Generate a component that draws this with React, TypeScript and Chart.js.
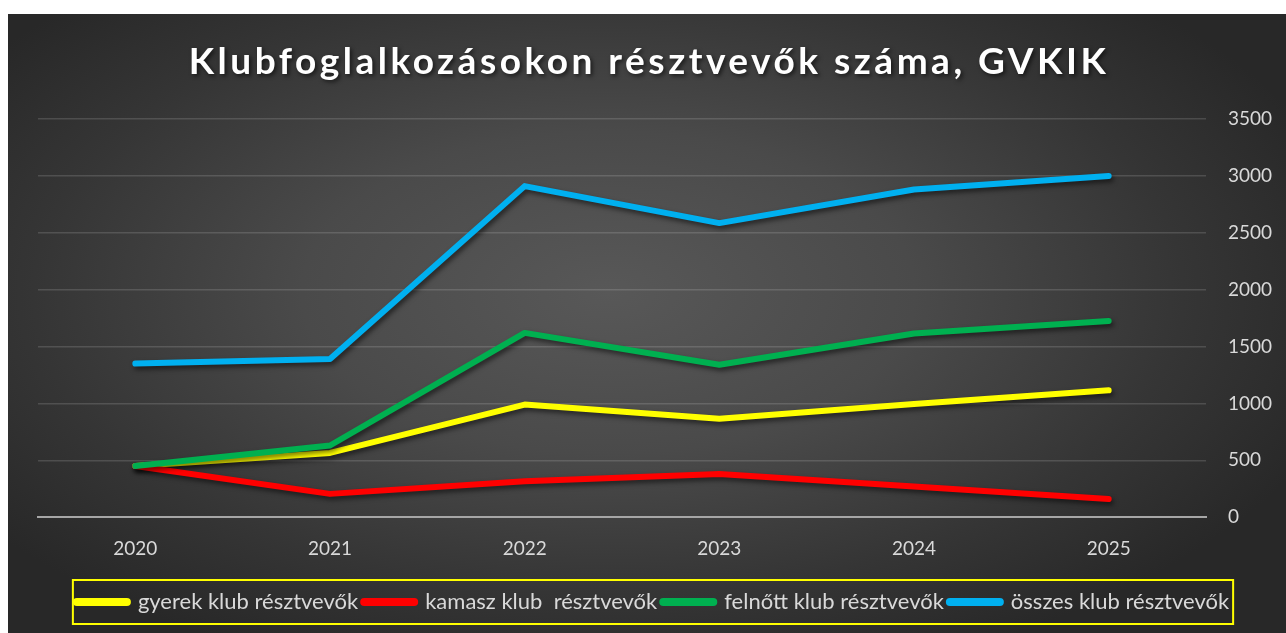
import React, { useEffect, useRef } from "react";
import { Chart, registerables } from "chart.js";

Chart.register(...registerables);

const TITLE = "Klubfoglalkozásokon résztvevők száma, GVKIK";
const YEARS = ["2020", "2021", "2022", "2023", "2024", "2025"];
const SERIES_NAMES = [
  "gyerek klub résztvevők",
  "kamasz klub  résztvevők",
  "felnőtt klub résztvevők",
  "összes klub résztvevők",
];
const GYEREK = [450, 565, 990, 865, 995, 1115];
const KAMASZ = [450, 205, 315, 380, 270, 160];
const FELNOTT = [450, 630, 1620, 1340, 1615, 1725];
const OSSZES = [1350, 1390, 2910, 2585, 2880, 3000];
const COLORS = ["#ffff00", "#ff0000", "#00b050", "#00b0f0"];
const Y_MIN = 0;
const Y_MAX = 3500;
const Y_STEP = 500;

const FONT = "Lato, 'Open Sans', sans-serif";

const titlePlugin = {
  id: "customTitle",
  afterDraw(chart: any) {
    const ctx = chart.ctx;
    ctx.save();
    ctx.font = `bold 37px ${FONT}`;
    (ctx as any).letterSpacing = "3.5px";
    ctx.fillStyle = "#ffffff";
    ctx.textAlign = "center";
    ctx.textBaseline = "middle";
    ctx.shadowColor = "rgba(0,0,0,0.6)";
    ctx.shadowBlur = 4;
    ctx.shadowOffsetX = 2;
    ctx.shadowOffsetY = 2;
    ctx.fillText(TITLE, chart.width / 2 + 2, 48);
    ctx.restore();
  },
};

const shadowPlugin = {
  id: "lineShadow",
  beforeDatasetDraw(chart: any) {
    const ctx = chart.ctx;
    ctx.save();
    ctx.shadowColor = "rgba(0,0,0,0.55)";
    ctx.shadowBlur = 5;
    ctx.shadowOffsetX = 2;
    ctx.shadowOffsetY = 3;
  },
  afterDatasetDraw(chart: any) {
    chart.ctx.restore();
  },
};

const LEGEND_SHIFT = -9;

const legendShiftPlugin = {
  id: "legendShift",
  afterLayout(chart: any) {
    const lg = chart.legend;
    if (!lg) return;
    lg.left += LEGEND_SHIFT;
    lg.right += LEGEND_SHIFT;
    if (lg.legendHitBoxes) {
      for (const h of lg.legendHitBoxes) h.left += LEGEND_SHIFT;
    }
  },
};

const legendBoxPlugin = {
  id: "legendBox",
  afterDraw(chart: any) {
    const lg = chart.legend;
    if (!lg || !lg.legendHitBoxes || !lg.legendHitBoxes.length) return;
    const boxes = lg.legendHitBoxes;
    let l = Infinity, r = -Infinity, t = Infinity, b = -Infinity;
    for (const h of boxes) {
      l = Math.min(l, h.left);
      r = Math.max(r, h.left + h.width);
      t = Math.min(t, h.top);
      b = Math.max(b, h.top + h.height);
    }
    const cy = (t + b) / 2;
    const ctx = chart.ctx;
    ctx.save();
    ctx.strokeStyle = "#ffff00";
    ctx.lineWidth = 2;
    ctx.strokeRect(l - 4, cy - 22, r - l + 8, 44);
    ctx.restore();
  },
};

export default function App() {
  const ref = useRef<HTMLCanvasElement | null>(null);
  useEffect(() => {
    if (!ref.current) return;
    const data = [GYEREK, KAMASZ, FELNOTT, OSSZES];
    const chart = new Chart(ref.current, {
      type: "line",
      data: {
        labels: YEARS,
        datasets: data.map((d, i) => ({
          label: SERIES_NAMES[i],
          data: d,
          borderColor: COLORS[i],
          backgroundColor: COLORS[i],
          borderWidth: 6,
          borderCapStyle: "round",
          borderJoinStyle: "round",
          pointRadius: 0,
          pointHoverRadius: 0,
          tension: 0,
          order: 4 - i,
        })),
      },
      options: {
        animation: false,
        responsive: false,
        maintainAspectRatio: false,
        layout: { padding: { left: 30, right: 0, top: 105, bottom: 10 } },
        plugins: {
          title: { display: false },
          tooltip: { enabled: false },
          legend: {
            position: "bottom",
            labels: {
              color: "#d9d9d9",
              font: { family: FONT, size: 22 },
              usePointStyle: true,
              pointStyle: "line",
              pointStyleWidth: 50,
              padding: 6,
              sort: (a: any, b: any) => a.datasetIndex - b.datasetIndex,
              generateLabels: (chart: any) => {
                const items = (Chart.defaults.plugins.legend.labels as any).generateLabels(chart);
                return items.map((it: any) => ({
                  ...it,
                  lineWidth: 8,
                  lineCap: "round",
                  pointStyle: "line",
                  fontColor: "#d9d9d9",
                }));
              },
            },
          },
        },
        scales: {
          x: {
            offset: true,
            grid: { display: false, drawTicks: false },
            border: { display: true, color: "#a6a6a6", width: 2 },
            ticks: {
              color: "#d9d9d9",
              font: { family: FONT, size: 19 },
              padding: 20,
            },
            afterFit: (scale: any) => {
              scale.height += 5;
            },
          },
          y: {
            position: "right",
            min: Y_MIN,
            max: Y_MAX,
            ticks: {
              stepSize: Y_STEP,
              color: "#d9d9d9",
              font: { family: FONT, size: 19 },
              padding: 22,
              callback: (v: any) => String(v),
            },
            grid: { color: "rgba(255,255,255,0.14)", lineWidth: 1.5, drawTicks: false },
            border: { display: false },
            afterFit: (scale: any) => {
              scale.width = 80;
            },
          },
        },
      },
      plugins: [titlePlugin, shadowPlugin, legendShiftPlugin, legendBoxPlugin],
    });
    return () => chart.destroy();
  }, []);

  return (
    <div
      style={{
        position: "fixed",
        left: 8,
        top: 14,
        right: 0,
        bottom: 0,
        background:
          "radial-gradient(ellipse 60% 65% at 47% 45%, #585858 0%, #4a4a4a 40%, #353535 75%, #282828 100%)",
      }}
    >
      <canvas ref={ref} width={1278} height={619} style={{ display: "block" }} />
    </div>
  );
}
